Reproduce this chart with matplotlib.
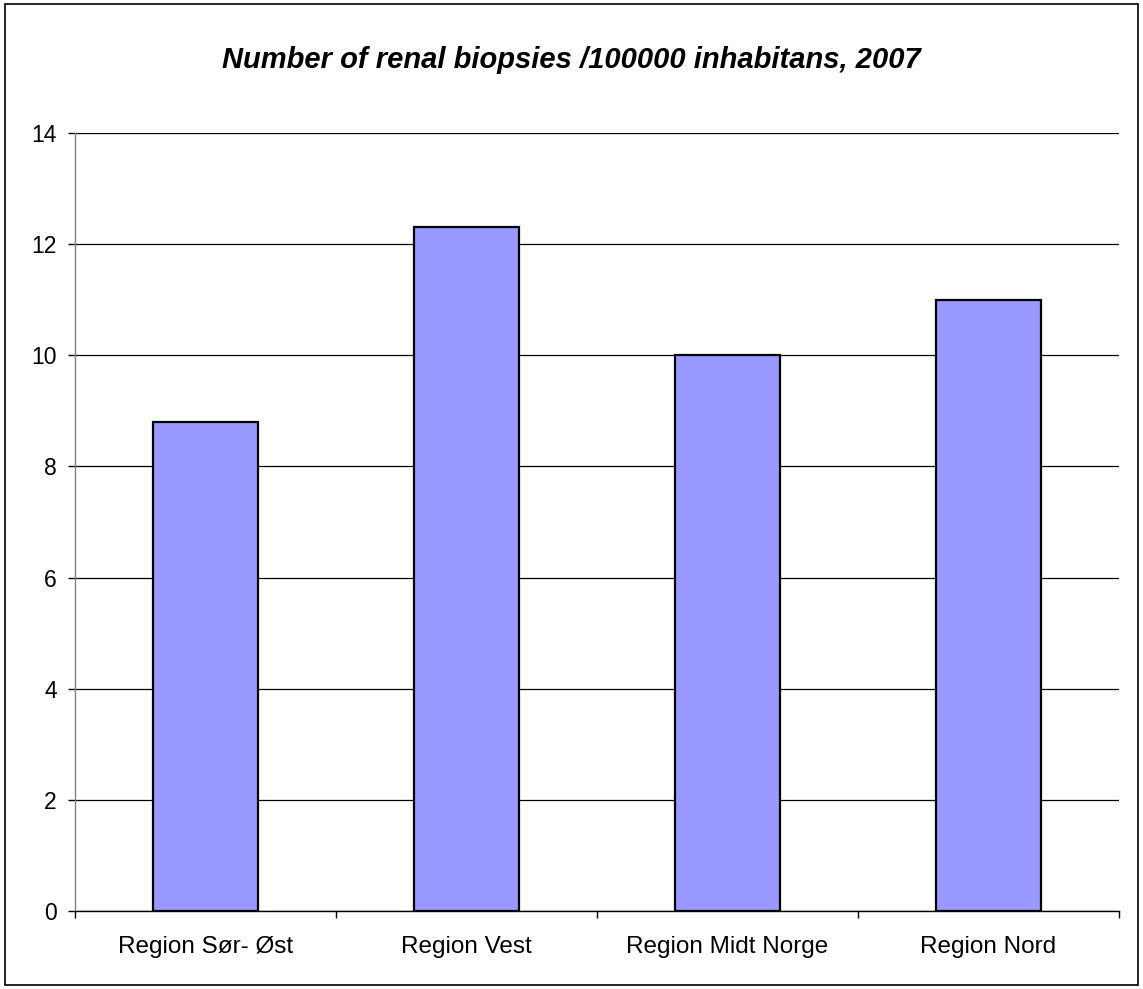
import matplotlib
matplotlib.use("Agg")
import matplotlib.pyplot as plt
from matplotlib.patches import Rectangle
import numpy as np

categories = ["Region Sør- Øst", "Region Vest", "Region Midt Norge", "Region Nord"]
values = [8.8, 12.3, 10.0, 11.0]
yticks = [0, 2, 4, 6, 8, 10, 12, 14]
title = "Number of renal biopsies /100000 inhabitans, 2007"

plt.rcParams['font.family'] = ['Liberation Sans', 'DejaVu Sans']

W, H = 1143, 989
fig = plt.figure(figsize=(W/100, H/100), dpi=100)
ax = fig.add_axes([75/W, 1-911/H, (1119-75)/W, (911-133)/H])

x = np.arange(len(categories))
ax.bar(x, values, width=0.4, color='#9999FF', edgecolor='black', linewidth=1.6, zorder=3)

ax.set_xlim(-0.5, len(categories)-0.5)
ax.set_ylim(0, 14)
ax.set_yticks(yticks)
ax.set_yticklabels([str(v) for v in yticks], fontsize=16.5)
ax.yaxis.grid(True, color='black', linewidth=0.9, zorder=0)
ax.set_axisbelow(True)

ax.set_xticks(x)
ax.set_xticklabels(categories, fontsize=17.5)
ax.tick_params(axis='x', which='major', length=0, pad=18)
ax.set_xticks(np.arange(-0.5, len(categories), 1.0), minor=True)
ax.tick_params(axis='x', which='minor', length=5, width=1, color='black', direction='out')
ax.tick_params(axis='y', length=5, width=1, color='black', pad=8)

for s in ['top', 'right']:
    ax.spines[s].set_visible(False)
ax.spines['left'].set_color('#808080')
ax.spines['left'].set_linewidth(1)
ax.spines['bottom'].set_color('black')
ax.spines['bottom'].set_linewidth(1)

fig.text(0.5, 1-60/H, title, ha='center', va='center', fontsize=21,
         fontweight='bold', fontstyle='italic')

fig.patches.append(Rectangle((5/W, 4/H), (1138-5)/W, (985-4)/H, transform=fig.transFigure,
                             fill=False, edgecolor='black', linewidth=1.2))

fig.savefig("out.png", dpi=100)
